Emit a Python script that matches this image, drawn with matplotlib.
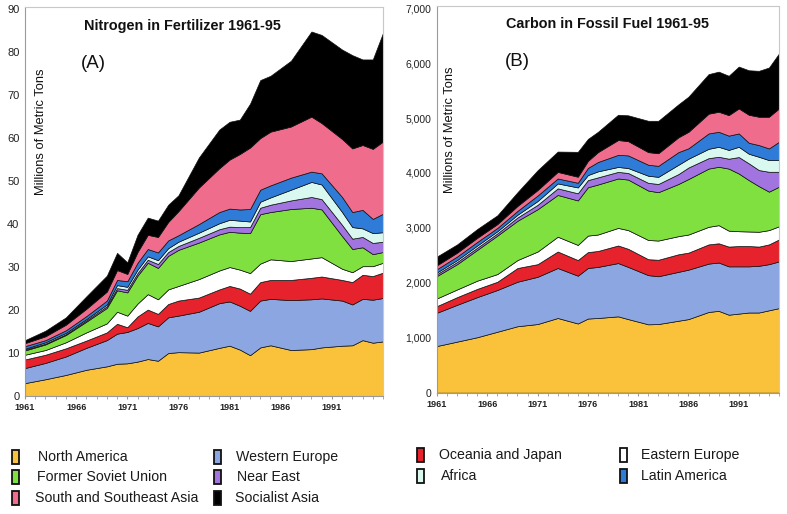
import matplotlib
matplotlib.use('Agg')
import matplotlib.pyplot as plt
from matplotlib.patches import Rectangle
from matplotlib.ticker import FuncFormatter, MultipleLocator

plt.rcParams['font.family'] = ['Liberation Sans', 'DejaVu Sans']

regions = ['North America', 'Western Europe', 'Oceania and Japan', 'Eastern Europe',
           'Former Soviet Union', 'Near East', 'Africa', 'Latin America',
           'South and Southeast Asia', 'Socialist Asia']
colors = ['#FAC23A', '#8CA6E2', '#E6222C', '#FFFFFF', '#80E040',
          '#A174E0', '#D9F8F0', '#2F7CD8', '#F06C8C', '#000000']

# ---- Panel A: Nitrogen in fertilizer (millions of metric tons) ----
years_n = [1961, 1963, 1965, 1967, 1969, 1970, 1971, 1972, 1973, 1974, 1975, 1976,
           1978, 1980, 1981, 1982, 1983, 1984, 1985, 1987, 1989, 1990, 1992, 1993,
           1994, 1995, 1996]
n_north_america = [3.0, 3.9, 4.9, 6.1, 6.9, 7.5, 7.6, 8.0, 8.6, 8.2, 10.0, 10.2, 10.1, 11.2,
                   11.7, 10.8, 9.5, 11.3, 11.8, 10.7, 10.9, 11.3, 11.7, 11.8, 13.0, 12.4, 12.7]
n_western_europe = [3.5, 3.8, 4.3, 5.1, 6.1, 7.0, 7.3, 7.8, 8.4, 8.0, 8.3, 8.5, 9.5, 10.4,
                    10.3, 10.2, 10.3, 10.9, 10.8, 11.6, 11.6, 11.4, 10.5, 9.5, 9.6, 10.0, 10.1]
n_oceania_japan = [2.0, 1.9, 1.9, 1.7, 1.8, 2.3, 1.1, 2.7, 3.1, 2.9, 3.1, 3.5, 3.3, 3.2,
                   3.6, 4.0, 4.0, 4.3, 4.4, 4.7, 5.0, 5.1, 4.8, 5.2, 5.6, 5.5, 5.9]
n_eastern_europe = [1.1, 1.1, 1.4, 1.9, 2.1, 2.8, 2.7, 3.0, 3.6, 3.4, 3.4, 3.4, 4.3, 4.4,
                    4.4, 4.4, 4.8, 4.3, 4.8, 4.4, 4.5, 4.5, 2.6, 2.3, 2.0, 2.3, 2.3]
n_former_soviet = [1.0, 1.3, 1.7, 2.5, 3.6, 5.0, 5.4, 6.5, 7.3, 7.3, 7.8, 8.4, 8.5, 8.4,
                   8.2, 8.6, 9.3, 11.5, 11.0, 12.1, 11.8, 11.1, 7.6, 5.4, 4.4, 2.8, 2.5]
n_near_east = [0.2, 0.2, 0.2, 0.3, 0.4, 0.5, 0.6, 0.6, 0.7, 0.9, 0.9, 0.9, 1.1, 1.2,
               1.2, 1.3, 1.4, 1.5, 1.7, 2.0, 2.5, 2.4, 2.6, 2.4, 2.4, 2.6, 2.4]
n_africa = [0.2, 0.3, 0.3, 0.3, 0.4, 0.7, 0.7, 0.8, 0.8, 0.9, 0.9, 1.0, 1.2, 1.4,
            1.6, 1.5, 1.3, 1.4, 1.7, 2.5, 3.5, 3.4, 3.0, 2.7, 2.0, 2.3, 2.2]
n_latin_america = [0.6, 0.5, 0.6, 0.7, 0.9, 1.2, 1.3, 1.6, 1.7, 1.8, 1.8, 1.5, 2.0, 2.6,
                   2.6, 2.6, 2.9, 2.8, 2.8, 2.8, 2.4, 2.6, 3.5, 3.5, 4.3, 3.3, 4.3]
n_south_asia = [0.7, 0.9, 1.3, 1.7, 2.1, 2.3, 1.7, 2.5, 3.3, 3.6, 4.3, 5.6, 8.5, 10.2,
                11.4, 12.9, 14.3, 12.0, 12.5, 11.9, 12.8, 11.7, 13.5, 14.8, 15.1, 16.3, 16.8]
n_socialist_asia = [0.7, 1.3, 1.7, 2.9, 3.7, 4.0, 2.7, 4.0, 4.0, 3.8, 4.0, 3.7, 7.0, 9.0,
                    8.8, 8.0, 10.2, 13.5, 13.0, 15.3, 19.8, 20.5, 20.8, 21.7, 19.9, 20.8, 25.3]

# ---- Panel B: Carbon in fossil fuel (millions of metric tons) ----
years_c = [1961, 1963, 1965, 1967, 1969, 1971, 1973, 1975, 1976, 1977, 1979, 1980,
           1982, 1983, 1985, 1986, 1988, 1989, 1990, 1991, 1992, 1993, 1994, 1995]
c_north_america = [850, 930, 1010, 1110, 1210, 1250, 1360, 1260, 1350, 1360, 1390, 1340,
                   1245, 1250, 1310, 1340, 1470, 1490, 1420, 1440, 1460, 1460, 1500, 1540]
c_western_europe = [606, 670, 730, 760, 810, 860, 910, 870, 920, 930, 970, 950,
                    895, 870, 890, 900, 880, 880, 880, 860, 840, 850, 840, 850]
c_oceania_japan = [121, 140, 150, 150, 250, 230, 300, 285, 290, 290, 320, 330,
                   290, 300, 320, 310, 350, 350, 360, 370, 370, 350, 360, 400]
c_eastern_europe = [140, 140, 150, 140, 145, 230, 270, 275, 300, 300, 320, 340,
                    350, 350, 330, 330, 320, 330, 290, 270, 265, 270, 260, 240]
c_former_soviet = [408, 460, 560, 700, 715, 770, 760, 810, 880, 910, 900, 920,
                   900, 880, 950, 1010, 1060, 1063, 1130, 1050, 935, 830, 700, 720]
c_near_east = [35, 40, 40, 40, 60, 80, 120, 130, 130, 130, 120, 120,
               140, 150, 180, 210, 190, 182, 180, 300, 305, 293, 362, 272]
c_africa = [30, 35, 40, 40, 50, 70, 90, 107, 92, 110, 90, 90,
            130, 130, 170, 160, 170, 182, 160, 187, 175, 242, 213, 213]
c_latin_america = [60, 65, 65, 60, 70, 100, 90, 85, 130, 170, 220, 230,
                   200, 200, 230, 190, 280, 273, 260, 243, 200, 213, 212, 333]
c_south_asia = [70, 70, 75, 70, 90, 100, 120, 110, 128, 180, 270, 260,
                230, 230, 270, 300, 360, 365, 374, 455, 510, 516, 577, 607]
c_socialist_asia = [160, 150, 160, 160, 250, 360, 370, 453, 400, 370, 460, 470,
                    570, 590, 600, 640, 720, 730, 716, 762, 810, 836, 896, 1002]

x_tick_years = [1961, 1966, 1971, 1976, 1981, 1986, 1991]

nitrogen = [n_north_america, n_western_europe, n_oceania_japan, n_eastern_europe,
            n_former_soviet, n_near_east, n_africa, n_latin_america, n_south_asia,
            n_socialist_asia]
carbon = [c_north_america, c_western_europe, c_oceania_japan, c_eastern_europe,
          c_former_soviet, c_near_east, c_africa, c_latin_america, c_south_asia,
          c_socialist_asia]

W, H = 787, 514
fig = plt.figure(figsize=(W / 100, H / 100), dpi=100)
fig.patch.set_facecolor('white')


def fx(px):
    return px / W


def fy(py):
    return 1 - py / H


def style_axes(ax, ylabsize):
    for s in ('left', 'bottom'):
        ax.spines[s].set_color('#9a9a9a')
        ax.spines[s].set_linewidth(0.8)
    for s in ('top', 'right'):
        ax.spines[s].set_color('#c8c8c8')
        ax.spines[s].set_linewidth(0.8)
        ax.spines[s].set_linestyle((0, (1, 1)))
    ax.xaxis.set_minor_locator(MultipleLocator(1))
    ax.set_xticks(x_tick_years)
    ax.tick_params(axis='x', which='both', length=2, color='#9a9a9a', pad=3,
                   labelsize=6.5)
    ax.tick_params(axis='y', length=0, pad=4, labelsize=ylabsize, labelcolor='#222222')
    for lab in ax.get_xticklabels():
        lab.set_fontweight('bold')
        lab.set_color('#222222')


# Panel A
axA = fig.add_axes([fx(25), fy(396), fx(358), (396 - 7) / H])
axA.stackplot(years_n, *nitrogen, colors=colors, edgecolor='#101010', linewidth=0.5)
axA.set_xlim(1961, 1996)
axA.set_ylim(0, 90.5)
axA.set_yticks(range(0, 91, 10))
style_axes(axA, 8)

# Panel B
axB = fig.add_axes([fx(437), fy(392.7), fx(342), (392.7 - 6) / H])
axB.stackplot(years_c, *carbon, colors=colors, edgecolor='#101010', linewidth=0.5)
axB.set_xlim(1961, 1995)
axB.set_ylim(0, 7040)
axB.set_yticks(range(0, 7001, 1000))
axB.yaxis.set_major_formatter(FuncFormatter(lambda v, p: f'{int(v):,}'))
style_axes(axB, 7.5)

# Titles and labels
fig.text(fx(182.5), fy(26), 'Nitrogen in Fertilizer 1961-95', ha='center', va='center',
         fontsize=10.4, fontweight='bold', color='#111111')
fig.text(fx(93), fy(63), '(A)', ha='center', va='center', fontsize=13.5, color='#111111')
fig.text(fx(41), fy(132), 'Millions of Metric Tons', ha='center', va='center',
         rotation=90, fontsize=9.3, color='#111111')

fig.text(fx(608), fy(23.5), 'Carbon in Fossil Fuel 1961-95', ha='center', va='center',
         fontsize=10.4, fontweight='bold', color='#111111')
fig.text(fx(517.5), fy(62), '(B)', ha='center', va='center', fontsize=13.5, color='#111111')
fig.text(fx(450), fy(130), 'Millions of Metric Tons', ha='center', va='center',
         rotation=90, fontsize=9.3, color='#111111')

# Legend (four columns)
legend_layout = [
    (0, 12, 38, 457), (4, 12, 37, 477), (8, 12, 35, 498),
    (1, 214, 236, 457), (5, 214, 237, 477), (9, 214, 235, 498),
    (2, 417, 439, 455), (6, 417, 441, 476),
    (3, 620, 641, 455), (7, 620, 641, 476),
]
for idx, mx, tx, cy in legend_layout:
    rect = Rectangle((fx(mx), fy(cy + 7)), 7 / W, 14 / H, transform=fig.transFigure,
                     facecolor=colors[idx], edgecolor='#111111', linewidth=1.3)
    fig.add_artist(rect)
    fig.text(fx(tx), fy(cy), regions[idx], ha='left', va='center', fontsize=10.2,
             color='#1a1a1a')

fig.savefig('out.png', dpi=100, facecolor='white')
